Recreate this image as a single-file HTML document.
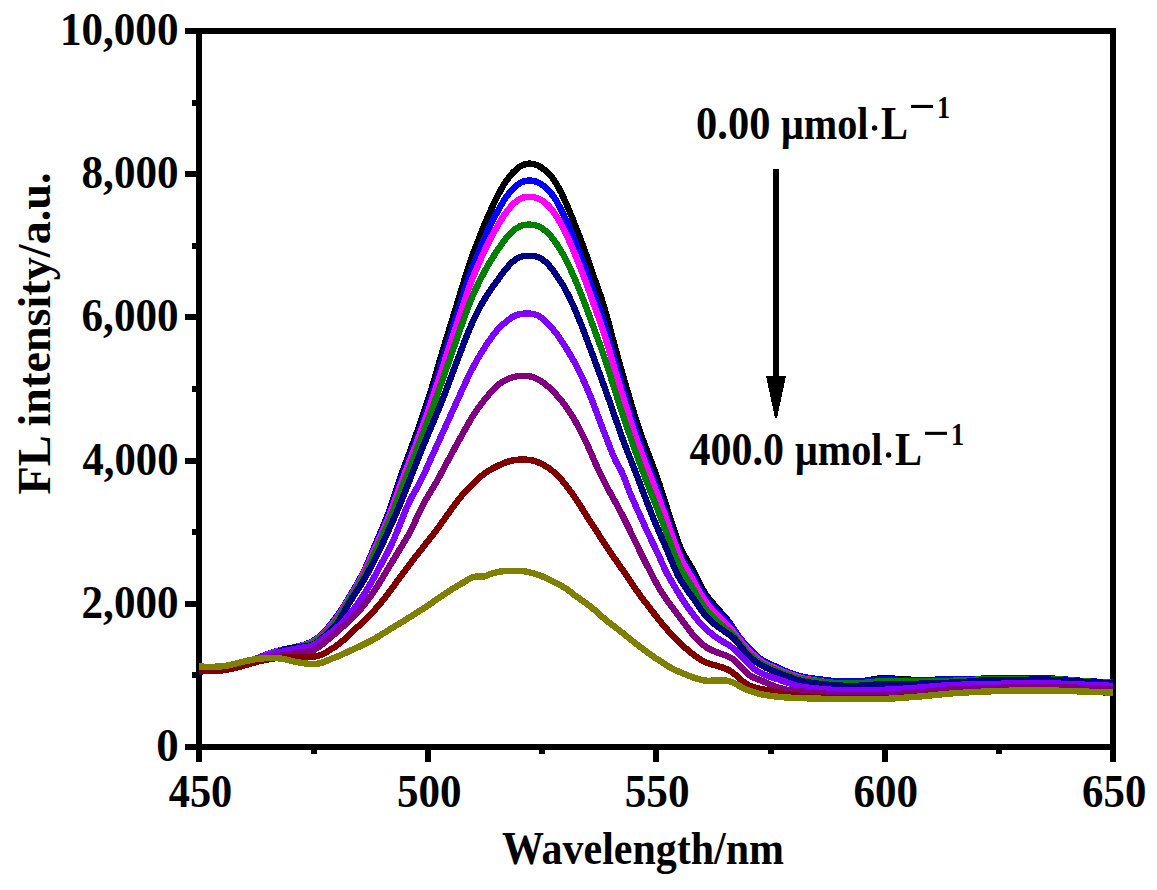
<!DOCTYPE html>
<html><head><meta charset="utf-8"><title>FL spectra</title>
<style>
html,body{margin:0;padding:0;background:#fff;}
body{width:1157px;height:890px;overflow:hidden;}
svg{display:block;}
text{font-family:"Liberation Serif",serif;font-weight:bold;fill:#000;}
</style></head><body>
<svg width="1157" height="890" viewBox="0 0 1157 890">
<rect x="0" y="0" width="1157" height="890" fill="#fff"/>
<defs><clipPath id="clipbox"><rect x="199" y="31" width="915" height="716"/></clipPath></defs>
<g fill="#000" shape-rendering="crispEdges">
<rect x="196" y="28" width="6" height="722"/>
<rect x="1110" y="28" width="6" height="722"/>
<rect x="196" y="28" width="920" height="6"/>
<rect x="196" y="744" width="920" height="6"/>
<rect x="185" y="744" width="12" height="6"/>
<rect x="192" y="672" width="5" height="6"/>
<rect x="185" y="601" width="12" height="6"/>
<rect x="192" y="529" width="5" height="6"/>
<rect x="185" y="458" width="12" height="6"/>
<rect x="192" y="386" width="5" height="6"/>
<rect x="185" y="314" width="12" height="6"/>
<rect x="192" y="243" width="5" height="6"/>
<rect x="185" y="171" width="12" height="6"/>
<rect x="192" y="100" width="5" height="6"/>
<rect x="185" y="28" width="12" height="6"/>
<rect x="196" y="749" width="6" height="13"/>
<rect x="311" y="749" width="6" height="5"/>
<rect x="425" y="749" width="6" height="13"/>
<rect x="539" y="749" width="6" height="5"/>
<rect x="653" y="749" width="6" height="13"/>
<rect x="768" y="749" width="6" height="5"/>
<rect x="882" y="749" width="6" height="13"/>
<rect x="996" y="749" width="6" height="5"/>
<rect x="1110" y="749" width="6" height="13"/>
</g>
<g fill="none" stroke-width="6.4" stroke-linejoin="round" stroke-linecap="butt" shape-rendering="crispEdges" clip-path="url(#clipbox)">
<path stroke="#000000" d="M199.0 670.5 L201.0 670.5 L203.0 670.5 L205.0 670.4 L207.0 670.4 L209.0 670.3 L211.0 670.3 L213.0 670.2 L215.0 670.1 L217.0 670.0 L219.0 669.9 L221.0 669.7 L223.0 669.5 L225.0 669.2 L227.0 668.8 L229.0 668.3 L231.0 667.8 L233.0 667.2 L235.0 666.6 L237.0 665.9 L239.0 665.1 L241.0 664.3 L243.0 663.5 L245.0 662.7 L247.0 662.0 L249.0 661.3 L251.0 660.6 L253.0 659.9 L255.0 659.1 L257.0 658.3 L259.0 657.5 L261.0 656.7 L263.0 655.9 L265.0 655.1 L267.0 654.3 L269.0 653.6 L271.0 652.9 L273.0 652.2 L275.0 651.6 L277.0 651.1 L279.0 650.5 L281.0 650.1 L283.0 649.6 L285.0 649.2 L287.0 648.7 L289.0 648.3 L291.0 647.9 L293.0 647.5 L295.0 647.1 L297.0 646.6 L299.0 646.2 L301.0 645.7 L303.0 645.1 L305.0 644.5 L307.0 643.8 L309.0 642.9 L311.0 642.0 L313.0 640.9 L315.0 639.6 L317.0 638.3 L319.0 636.7 L321.0 635.0 L323.0 633.1 L325.0 631.0 L327.0 628.8 L329.0 626.5 L331.0 624.1 L333.0 621.5 L335.0 618.9 L337.0 616.1 L339.0 613.2 L341.0 610.3 L343.0 607.2 L345.0 604.0 L347.0 600.8 L349.0 597.5 L351.0 594.2 L353.0 590.9 L355.0 587.5 L357.0 584.0 L359.0 580.5 L361.0 576.7 L363.0 572.8 L365.0 568.8 L367.0 564.4 L369.0 559.8 L371.0 555.1 L373.0 550.2 L375.0 545.4 L377.0 540.7 L379.0 536.1 L381.0 531.4 L383.0 526.7 L385.0 521.8 L387.0 516.8 L389.0 511.5 L391.0 505.9 L393.0 500.1 L395.0 494.0 L397.0 487.9 L399.0 481.8 L401.0 475.8 L403.0 470.2 L405.0 464.7 L407.0 459.4 L409.0 454.1 L411.0 448.7 L413.0 443.3 L415.0 437.7 L417.0 432.1 L419.0 426.4 L421.0 420.6 L423.0 414.8 L425.0 408.9 L427.0 402.9 L429.0 396.7 L431.0 390.4 L433.0 383.8 L435.0 377.0 L437.0 370.2 L439.0 363.3 L441.0 356.4 L443.0 349.7 L445.0 343.1 L447.0 336.6 L449.0 330.2 L451.0 323.7 L453.0 317.3 L455.0 310.7 L457.0 304.2 L459.0 297.5 L461.0 290.9 L463.0 284.3 L465.0 277.8 L467.0 271.4 L469.0 265.2 L471.0 259.3 L473.0 253.8 L475.0 248.5 L477.0 243.5 L479.0 238.5 L481.0 233.4 L483.0 228.3 L485.0 223.4 L487.0 218.6 L489.0 214.0 L491.0 209.6 L493.0 205.4 L495.0 201.3 L497.0 197.2 L499.0 193.3 L501.0 189.6 L503.0 186.1 L505.0 182.9 L507.0 179.9 L509.0 177.2 L511.0 174.7 L513.0 172.5 L515.0 170.6 L517.0 168.8 L519.0 167.3 L521.0 166.0 L523.0 165.0 L525.0 164.3 L527.0 163.8 L529.0 163.6 L531.0 163.7 L533.0 163.9 L535.0 164.4 L537.0 165.1 L539.0 166.1 L541.0 167.3 L543.0 168.7 L545.0 170.2 L547.0 171.8 L549.0 173.8 L551.0 176.0 L553.0 178.6 L555.0 181.6 L557.0 184.8 L559.0 188.4 L561.0 192.3 L563.0 196.4 L565.0 200.8 L567.0 205.3 L569.0 210.0 L571.0 214.9 L573.0 219.8 L575.0 224.9 L577.0 230.0 L579.0 235.2 L581.0 240.4 L583.0 245.8 L585.0 251.3 L587.0 256.9 L589.0 262.7 L591.0 268.6 L593.0 274.4 L595.0 280.1 L597.0 285.7 L599.0 291.2 L601.0 297.0 L603.0 303.2 L605.0 309.9 L607.0 317.0 L609.0 324.4 L611.0 332.0 L613.0 339.6 L615.0 347.0 L617.0 354.3 L619.0 361.4 L621.0 368.5 L623.0 375.5 L625.0 382.5 L627.0 389.4 L629.0 396.3 L631.0 403.1 L633.0 409.8 L635.0 416.3 L637.0 422.6 L639.0 428.6 L641.0 434.4 L643.0 440.0 L645.0 445.4 L647.0 450.7 L649.0 455.9 L651.0 461.2 L653.0 466.4 L655.0 471.8 L657.0 477.3 L659.0 483.0 L661.0 489.1 L663.0 495.3 L665.0 501.8 L667.0 508.2 L669.0 514.6 L671.0 520.9 L673.0 527.0 L675.0 532.9 L677.0 538.7 L679.0 544.1 L681.0 549.0 L683.0 553.3 L685.0 556.9 L687.0 560.1 L689.0 563.3 L691.0 566.7 L693.0 570.5 L695.0 574.5 L697.0 578.6 L699.0 582.6 L701.0 586.4 L703.0 589.9 L705.0 593.1 L707.0 595.9 L709.0 598.6 L711.0 601.1 L713.0 603.5 L715.0 605.9 L717.0 608.2 L719.0 610.4 L721.0 612.6 L723.0 614.7 L725.0 617.0 L727.0 619.4 L729.0 622.0 L731.0 624.7 L733.0 627.7 L735.0 630.8 L737.0 633.9 L739.0 637.1 L741.0 640.0 L743.0 642.7 L745.0 645.1 L747.0 647.3 L749.0 649.4 L751.0 651.4 L753.0 653.4 L755.0 655.4 L757.0 657.2 L759.0 658.8 L761.0 660.2 L763.0 661.5 L765.0 662.6 L767.0 663.6 L769.0 664.5 L771.0 665.4 L773.0 666.4 L775.0 667.3 L777.0 668.2 L779.0 669.1 L781.0 670.0 L783.0 670.8 L785.0 671.6 L787.0 672.4 L789.0 673.2 L791.0 674.0 L793.0 674.8 L795.0 675.5 L797.0 676.1 L799.0 676.7 L801.0 677.2 L803.0 677.6 L805.0 678.0 L807.0 678.4 L809.0 678.7 L811.0 679.0 L813.0 679.3 L815.0 679.6 L817.0 679.8 L819.0 680.1 L821.0 680.3 L823.0 680.5 L825.0 680.8 L827.0 681.0 L829.0 681.2 L831.0 681.4 L833.0 681.6 L835.0 681.8 L837.0 682.0 L839.0 682.1 L841.0 682.2 L843.0 682.2 L845.0 682.2 L847.0 682.2 L849.0 682.1 L851.0 682.0 L853.0 681.9 L855.0 681.8 L857.0 681.6 L859.0 681.4 L861.0 681.2 L863.0 681.0 L865.0 680.7 L867.0 680.4 L869.0 680.1 L871.0 679.7 L873.0 679.3 L875.0 679.0 L877.0 678.7 L879.0 678.5 L881.0 678.4 L883.0 678.4 L885.0 678.4 L887.0 678.5 L889.0 678.5 L891.0 678.6 L893.0 678.6 L895.0 678.7 L897.0 678.8 L899.0 678.9 L901.0 679.0 L903.0 679.1 L905.0 679.3 L907.0 679.4 L909.0 679.6 L911.0 679.7 L913.0 679.8 L915.0 679.9 L917.0 680.0 L919.0 680.0 L921.0 680.0 L923.0 680.0 L925.0 680.0 L927.0 679.9 L929.0 679.9 L931.0 679.9 L933.0 679.9 L935.0 679.9 L937.0 679.8 L939.0 679.8 L941.0 679.8 L943.0 679.8 L945.0 679.7 L947.0 679.7 L949.0 679.7 L951.0 679.7 L953.0 679.6 L955.0 679.6 L957.0 679.6 L959.0 679.5 L961.0 679.5 L963.0 679.4 L965.0 679.4 L967.0 679.3 L969.0 679.2 L971.0 679.2 L973.0 679.1 L975.0 679.0 L977.0 678.9 L979.0 678.9 L981.0 678.8 L983.0 678.7 L985.0 678.7 L987.0 678.6 L989.0 678.6 L991.0 678.5 L993.0 678.5 L995.0 678.5 L997.0 678.4 L999.0 678.4 L1001.0 678.4 L1003.0 678.4 L1005.0 678.4 L1007.0 678.4 L1009.0 678.4 L1011.0 678.4 L1013.0 678.4 L1015.0 678.4 L1017.0 678.4 L1019.0 678.4 L1021.0 678.4 L1023.0 678.4 L1025.0 678.4 L1027.0 678.4 L1029.0 678.4 L1031.0 678.4 L1033.0 678.4 L1035.0 678.4 L1037.0 678.4 L1039.0 678.4 L1041.0 678.4 L1043.0 678.4 L1045.0 678.4 L1047.0 678.5 L1049.0 678.5 L1051.0 678.6 L1053.0 678.7 L1055.0 678.8 L1057.0 678.9 L1059.0 679.1 L1061.0 679.2 L1063.0 679.4 L1065.0 679.5 L1067.0 679.7 L1069.0 679.9 L1071.0 680.0 L1073.0 680.2 L1075.0 680.4 L1077.0 680.5 L1079.0 680.7 L1081.0 680.8 L1083.0 681.0 L1085.0 681.1 L1087.0 681.2 L1089.0 681.4 L1091.0 681.5 L1093.0 681.6 L1095.0 681.7 L1097.0 681.8 L1099.0 681.9 L1101.0 682.0 L1103.0 682.1 L1105.0 682.2 L1107.0 682.3 L1109.0 682.4 L1111.0 682.5"/>
<path stroke="#0000ff" d="M199.0 670.5 L201.0 670.5 L203.0 670.5 L205.0 670.4 L207.0 670.4 L209.0 670.3 L211.0 670.3 L213.0 670.2 L215.0 670.1 L217.0 670.0 L219.0 669.9 L221.0 669.7 L223.0 669.5 L225.0 669.2 L227.0 668.8 L229.0 668.3 L231.0 667.8 L233.0 667.2 L235.0 666.6 L237.0 665.9 L239.0 665.1 L241.0 664.3 L243.0 663.5 L245.0 662.7 L247.0 662.0 L249.0 661.3 L251.0 660.6 L253.0 659.9 L255.0 659.1 L257.0 658.3 L259.0 657.5 L261.0 656.7 L263.0 655.9 L265.0 655.1 L267.0 654.3 L269.0 653.6 L271.0 652.9 L273.0 652.2 L275.0 651.6 L277.0 651.1 L279.0 650.5 L281.0 650.1 L283.0 649.6 L285.0 649.2 L287.0 648.7 L289.0 648.3 L291.0 647.9 L293.0 647.5 L295.0 647.1 L297.0 646.6 L299.0 646.2 L301.0 645.7 L303.0 645.1 L305.0 644.5 L307.0 643.8 L309.0 642.9 L311.0 642.0 L313.0 640.9 L315.0 639.6 L317.0 638.3 L319.0 636.7 L321.0 635.0 L323.0 633.1 L325.0 631.0 L327.0 628.8 L329.0 626.5 L331.0 624.1 L333.0 621.5 L335.0 618.9 L337.0 616.1 L339.0 613.2 L341.0 610.3 L343.0 607.2 L345.0 604.0 L347.0 600.8 L349.0 597.5 L351.0 594.2 L353.0 590.9 L355.0 587.5 L357.0 584.0 L359.0 580.5 L361.0 576.7 L363.0 572.8 L365.0 568.8 L367.0 564.4 L369.0 559.9 L371.0 555.2 L373.0 550.4 L375.0 545.7 L377.0 541.2 L379.0 536.6 L381.0 532.1 L383.0 527.5 L385.0 522.9 L387.0 518.0 L389.0 512.9 L391.0 507.6 L393.0 502.0 L395.0 496.2 L397.0 490.4 L399.0 484.6 L401.0 479.0 L403.0 473.6 L405.0 468.3 L407.0 463.2 L409.0 458.1 L411.0 453.0 L413.0 447.8 L415.0 442.5 L417.0 437.1 L419.0 431.6 L421.0 426.1 L423.0 420.5 L425.0 414.8 L427.0 409.0 L429.0 403.1 L431.0 397.0 L433.0 390.8 L435.0 384.4 L437.0 377.9 L439.0 371.4 L441.0 364.9 L443.0 358.5 L445.0 352.2 L447.0 345.9 L449.0 339.7 L451.0 333.4 L453.0 327.2 L455.0 320.9 L457.0 314.5 L459.0 308.1 L461.0 301.7 L463.0 295.4 L465.0 289.1 L467.0 283.0 L469.0 277.0 L471.0 271.3 L473.0 266.0 L475.0 261.0 L477.0 256.1 L479.0 251.3 L481.0 246.5 L483.0 241.7 L485.0 237.1 L487.0 232.5 L489.0 228.2 L491.0 224.1 L493.0 220.2 L495.0 216.3 L497.0 212.5 L499.0 208.9 L501.0 205.3 L503.0 202.0 L505.0 198.9 L507.0 196.0 L509.0 193.4 L511.0 191.0 L513.0 188.8 L515.0 186.9 L517.0 185.3 L519.0 183.8 L521.0 182.6 L523.0 181.7 L525.0 181.1 L527.0 180.7 L529.0 180.5 L531.0 180.6 L533.0 180.8 L535.0 181.3 L537.0 182.0 L539.0 183.0 L541.0 184.2 L543.0 185.5 L545.0 187.1 L547.0 188.9 L549.0 190.9 L551.0 193.2 L553.0 195.8 L555.0 198.8 L557.0 202.0 L559.0 205.6 L561.0 209.4 L563.0 213.4 L565.0 217.7 L567.0 222.1 L569.0 226.7 L571.0 231.5 L573.0 236.4 L575.0 241.5 L577.0 246.5 L579.0 251.7 L581.0 257.0 L583.0 262.4 L585.0 267.8 L587.0 273.5 L589.0 279.2 L591.0 285.1 L593.0 290.9 L595.0 296.6 L597.0 302.2 L599.0 307.8 L601.0 313.5 L603.0 319.6 L605.0 326.1 L607.0 332.9 L609.0 340.0 L611.0 347.3 L613.0 354.5 L615.0 361.6 L617.0 368.6 L619.0 375.5 L621.0 382.3 L623.0 389.0 L625.0 395.6 L627.0 402.2 L629.0 408.8 L631.0 415.2 L633.0 421.6 L635.0 427.8 L637.0 433.9 L639.0 439.8 L641.0 445.4 L643.0 450.9 L645.0 456.3 L647.0 461.6 L649.0 466.8 L651.0 472.0 L653.0 477.2 L655.0 482.5 L657.0 487.8 L659.0 493.4 L661.0 499.1 L663.0 505.0 L665.0 511.0 L667.0 517.1 L669.0 523.2 L671.0 529.2 L673.0 535.0 L675.0 540.6 L677.0 546.1 L679.0 551.2 L681.0 555.8 L683.0 559.8 L685.0 563.3 L687.0 566.4 L689.0 569.5 L691.0 572.7 L693.0 576.3 L695.0 580.1 L697.0 583.9 L699.0 587.5 L701.0 590.8 L703.0 593.9 L705.0 596.7 L707.0 599.3 L709.0 601.8 L711.0 604.1 L713.0 606.4 L715.0 608.6 L717.0 610.8 L719.0 612.8 L721.0 614.9 L723.0 616.9 L725.0 618.9 L727.0 621.0 L729.0 623.3 L731.0 625.6 L733.0 628.1 L735.0 630.8 L737.0 633.6 L739.0 636.5 L741.0 639.2 L743.0 641.7 L745.0 644.0 L747.0 646.1 L749.0 648.2 L751.0 650.2 L753.0 652.3 L755.0 654.3 L757.0 656.2 L759.0 657.9 L761.0 659.3 L763.0 660.5 L765.0 661.6 L767.0 662.6 L769.0 663.5 L771.0 664.5 L773.0 665.4 L775.0 666.3 L777.0 667.3 L779.0 668.2 L781.0 669.1 L783.0 669.9 L785.0 670.8 L787.0 671.6 L789.0 672.4 L791.0 673.1 L793.0 673.9 L795.0 674.6 L797.0 675.2 L799.0 675.8 L801.0 676.3 L803.0 676.7 L805.0 677.1 L807.0 677.5 L809.0 677.9 L811.0 678.2 L813.0 678.5 L815.0 678.8 L817.0 679.0 L819.0 679.3 L821.0 679.5 L823.0 679.8 L825.0 680.0 L827.0 680.2 L829.0 680.5 L831.0 680.7 L833.0 680.9 L835.0 681.1 L837.0 681.3 L839.0 681.4 L841.0 681.5 L843.0 681.6 L845.0 681.6 L847.0 681.6 L849.0 681.5 L851.0 681.5 L853.0 681.4 L855.0 681.4 L857.0 681.3 L859.0 681.2 L861.0 681.1 L863.0 681.0 L865.0 680.8 L867.0 680.6 L869.0 680.4 L871.0 680.2 L873.0 680.0 L875.0 679.8 L877.0 679.7 L879.0 679.6 L881.0 679.5 L883.0 679.5 L885.0 679.5 L887.0 679.5 L889.0 679.6 L891.0 679.6 L893.0 679.6 L895.0 679.6 L897.0 679.7 L899.0 679.7 L901.0 679.7 L903.0 679.7 L905.0 679.7 L907.0 679.8 L909.0 679.8 L911.0 679.8 L913.0 679.8 L915.0 679.8 L917.0 679.8 L919.0 679.8 L921.0 679.8 L923.0 679.8 L925.0 679.8 L927.0 679.7 L929.0 679.7 L931.0 679.7 L933.0 679.7 L935.0 679.7 L937.0 679.6 L939.0 679.6 L941.0 679.6 L943.0 679.6 L945.0 679.6 L947.0 679.5 L949.0 679.5 L951.0 679.5 L953.0 679.4 L955.0 679.4 L957.0 679.4 L959.0 679.4 L961.0 679.3 L963.0 679.3 L965.0 679.2 L967.0 679.1 L969.0 679.1 L971.0 679.0 L973.0 679.0 L975.0 678.9 L977.0 678.8 L979.0 678.7 L981.0 678.7 L983.0 678.6 L985.0 678.6 L987.0 678.5 L989.0 678.4 L991.0 678.4 L993.0 678.4 L995.0 678.3 L997.0 678.3 L999.0 678.3 L1001.0 678.3 L1003.0 678.3 L1005.0 678.3 L1007.0 678.3 L1009.0 678.3 L1011.0 678.3 L1013.0 678.3 L1015.0 678.3 L1017.0 678.3 L1019.0 678.3 L1021.0 678.3 L1023.0 678.3 L1025.0 678.3 L1027.0 678.3 L1029.0 678.3 L1031.0 678.3 L1033.0 678.3 L1035.0 678.3 L1037.0 678.3 L1039.0 678.3 L1041.0 678.3 L1043.0 678.3 L1045.0 678.3 L1047.0 678.4 L1049.0 678.4 L1051.0 678.5 L1053.0 678.6 L1055.0 678.7 L1057.0 678.8 L1059.0 679.0 L1061.0 679.1 L1063.0 679.3 L1065.0 679.4 L1067.0 679.6 L1069.0 679.8 L1071.0 679.9 L1073.0 680.1 L1075.0 680.3 L1077.0 680.5 L1079.0 680.6 L1081.0 680.8 L1083.0 680.9 L1085.0 681.0 L1087.0 681.2 L1089.0 681.3 L1091.0 681.4 L1093.0 681.5 L1095.0 681.6 L1097.0 681.7 L1099.0 681.9 L1101.0 682.0 L1103.0 682.1 L1105.0 682.2 L1107.0 682.3 L1109.0 682.4 L1111.0 682.5 L1112.8 682.5"/>
<path stroke="#ff00ff" d="M199.0 670.6 L201.0 670.6 L203.0 670.6 L205.0 670.6 L207.0 670.5 L209.0 670.5 L211.0 670.4 L213.0 670.3 L215.0 670.3 L217.0 670.2 L219.0 670.0 L221.0 669.9 L223.0 669.6 L225.0 669.3 L227.0 668.9 L229.0 668.5 L231.0 668.0 L233.0 667.4 L235.0 666.8 L237.0 666.1 L239.0 665.3 L241.0 664.6 L243.0 663.8 L245.0 663.0 L247.0 662.3 L249.0 661.6 L251.0 660.8 L253.0 660.1 L255.0 659.3 L257.0 658.5 L259.0 657.7 L261.0 656.9 L263.0 656.2 L265.0 655.4 L267.0 654.7 L269.0 654.0 L271.0 653.3 L273.0 652.6 L275.0 652.0 L277.0 651.3 L279.0 650.8 L281.0 650.2 L283.0 649.7 L285.0 649.2 L287.0 648.7 L289.0 648.3 L291.0 647.9 L293.0 647.6 L295.0 647.2 L297.0 646.8 L299.0 646.3 L301.0 645.9 L303.0 645.4 L305.0 644.8 L307.0 644.2 L309.0 643.4 L311.0 642.6 L313.0 641.6 L315.0 640.4 L317.0 639.0 L319.0 637.5 L321.0 635.8 L323.0 633.9 L325.0 631.9 L327.0 629.8 L329.0 627.6 L331.0 625.2 L333.0 622.8 L335.0 620.3 L337.0 617.6 L339.0 614.7 L341.0 611.6 L343.0 608.4 L345.0 605.2 L347.0 601.9 L349.0 598.6 L351.0 595.4 L353.0 592.1 L355.0 588.7 L357.0 585.3 L359.0 581.8 L361.0 578.2 L363.0 574.4 L365.0 570.5 L367.0 566.3 L369.0 561.9 L371.0 557.4 L373.0 552.8 L375.0 548.3 L377.0 543.8 L379.0 539.4 L381.0 534.9 L383.0 530.4 L385.0 525.8 L387.0 521.0 L389.0 516.1 L391.0 510.9 L393.0 505.6 L395.0 500.0 L397.0 494.4 L399.0 488.8 L401.0 483.3 L403.0 478.0 L405.0 472.8 L407.0 467.7 L409.0 462.7 L411.0 457.5 L413.0 452.3 L415.0 447.0 L417.0 441.7 L419.0 436.3 L421.0 430.9 L423.0 425.5 L425.0 419.9 L427.0 414.4 L429.0 408.7 L431.0 402.9 L433.0 396.9 L435.0 390.9 L437.0 384.7 L439.0 378.5 L441.0 372.4 L443.0 366.2 L445.0 360.2 L447.0 354.1 L449.0 348.1 L451.0 342.0 L453.0 335.9 L455.0 329.9 L457.0 323.7 L459.0 317.6 L461.0 311.4 L463.0 305.3 L465.0 299.3 L467.0 293.4 L469.0 287.7 L471.0 282.2 L473.0 277.1 L475.0 272.3 L477.0 267.6 L479.0 263.1 L481.0 258.5 L483.0 254.0 L485.0 249.7 L487.0 245.5 L489.0 241.5 L491.0 237.6 L493.0 234.0 L495.0 230.4 L497.0 226.9 L499.0 223.4 L501.0 220.1 L503.0 216.9 L505.0 213.9 L507.0 211.2 L509.0 208.7 L511.0 206.4 L513.0 204.3 L515.0 202.5 L517.0 200.9 L519.0 199.6 L521.0 198.5 L523.0 197.7 L525.0 197.1 L527.0 196.8 L529.0 196.7 L531.0 196.7 L533.0 197.0 L535.0 197.4 L537.0 198.0 L539.0 198.9 L541.0 200.0 L543.0 201.3 L545.0 202.8 L547.0 204.5 L549.0 206.5 L551.0 208.7 L553.0 211.2 L555.0 214.0 L557.0 217.1 L559.0 220.4 L561.0 224.0 L563.0 227.7 L565.0 231.7 L567.0 235.9 L569.0 240.3 L571.0 244.9 L573.0 249.5 L575.0 254.3 L577.0 259.2 L579.0 264.2 L581.0 269.3 L583.0 274.5 L585.0 279.8 L587.0 285.3 L589.0 290.9 L591.0 296.6 L593.0 302.2 L595.0 307.7 L597.0 313.2 L599.0 318.7 L601.0 324.3 L603.0 330.2 L605.0 336.5 L607.0 343.0 L609.0 349.8 L611.0 356.7 L613.0 363.7 L615.0 370.5 L617.0 377.3 L619.0 383.9 L621.0 390.5 L623.0 397.0 L625.0 403.4 L627.0 409.8 L629.0 416.0 L631.0 422.3 L633.0 428.4 L635.0 434.4 L637.0 440.4 L639.0 446.1 L641.0 451.7 L643.0 457.2 L645.0 462.5 L647.0 467.8 L649.0 472.9 L651.0 478.1 L653.0 483.2 L655.0 488.3 L657.0 493.5 L659.0 498.8 L661.0 504.3 L663.0 510.0 L665.0 515.7 L667.0 521.5 L669.0 527.4 L671.0 533.1 L673.0 538.8 L675.0 544.2 L677.0 549.5 L679.0 554.4 L681.0 558.9 L683.0 562.9 L685.0 566.5 L687.0 569.8 L689.0 573.0 L691.0 576.4 L693.0 580.1 L695.0 583.9 L697.0 587.8 L699.0 591.4 L701.0 594.9 L703.0 598.0 L705.0 601.0 L707.0 603.7 L709.0 606.2 L711.0 608.5 L713.0 610.8 L715.0 612.9 L717.0 615.0 L719.0 617.0 L721.0 619.0 L723.0 621.0 L725.0 623.0 L727.0 625.0 L729.0 627.1 L731.0 629.3 L733.0 631.6 L735.0 634.0 L737.0 636.5 L739.0 639.1 L741.0 641.7 L743.0 644.2 L745.0 646.4 L747.0 648.6 L749.0 650.6 L751.0 652.6 L753.0 654.5 L755.0 656.4 L757.0 658.2 L759.0 659.8 L761.0 661.2 L763.0 662.4 L765.0 663.4 L767.0 664.4 L769.0 665.4 L771.0 666.3 L773.0 667.2 L775.0 668.1 L777.0 669.0 L779.0 669.8 L781.0 670.7 L783.0 671.5 L785.0 672.3 L787.0 673.1 L789.0 673.8 L791.0 674.6 L793.0 675.3 L795.0 676.0 L797.0 676.7 L799.0 677.3 L801.0 677.8 L803.0 678.3 L805.0 678.7 L807.0 679.1 L809.0 679.5 L811.0 679.8 L813.0 680.2 L815.0 680.5 L817.0 680.8 L819.0 681.0 L821.0 681.3 L823.0 681.6 L825.0 681.8 L827.0 682.1 L829.0 682.3 L831.0 682.6 L833.0 682.8 L835.0 683.0 L837.0 683.2 L839.0 683.4 L841.0 683.5 L843.0 683.6 L845.0 683.6 L847.0 683.6 L849.0 683.6 L851.0 683.6 L853.0 683.6 L855.0 683.6 L857.0 683.6 L859.0 683.5 L861.0 683.4 L863.0 683.3 L865.0 683.2 L867.0 683.0 L869.0 682.9 L871.0 682.7 L873.0 682.5 L875.0 682.3 L877.0 682.2 L879.0 682.1 L881.0 682.0 L883.0 682.0 L885.0 682.0 L887.0 682.0 L889.0 682.0 L891.0 682.0 L893.0 682.0 L895.0 682.0 L897.0 682.0 L899.0 682.0 L901.0 682.0 L903.0 682.0 L905.0 682.0 L907.0 682.0 L909.0 682.0 L911.0 682.0 L913.0 682.0 L915.0 682.0 L917.0 682.0 L919.0 681.9 L921.0 681.9 L923.0 681.9 L925.0 681.8 L927.0 681.8 L929.0 681.8 L931.0 681.7 L933.0 681.7 L935.0 681.6 L937.0 681.6 L939.0 681.5 L941.0 681.5 L943.0 681.4 L945.0 681.4 L947.0 681.3 L949.0 681.3 L951.0 681.2 L953.0 681.2 L955.0 681.1 L957.0 681.0 L959.0 680.9 L961.0 680.9 L963.0 680.8 L965.0 680.6 L967.0 680.5 L969.0 680.4 L971.0 680.3 L973.0 680.2 L975.0 680.0 L977.0 679.9 L979.0 679.8 L981.0 679.7 L983.0 679.6 L985.0 679.5 L987.0 679.4 L989.0 679.4 L991.0 679.3 L993.0 679.3 L995.0 679.3 L997.0 679.2 L999.0 679.2 L1001.0 679.2 L1003.0 679.2 L1005.0 679.2 L1007.0 679.2 L1009.0 679.2 L1011.0 679.2 L1013.0 679.2 L1015.0 679.2 L1017.0 679.1 L1019.0 679.1 L1021.0 679.1 L1023.0 679.1 L1025.0 679.1 L1027.0 679.1 L1029.0 679.1 L1031.0 679.0 L1033.0 679.0 L1035.0 679.0 L1037.0 679.0 L1039.0 679.0 L1041.0 679.0 L1043.0 679.0 L1045.0 679.0 L1047.0 679.0 L1049.0 679.1 L1051.0 679.2 L1053.0 679.2 L1055.0 679.3 L1057.0 679.5 L1059.0 679.6 L1061.0 679.7 L1063.0 679.9 L1065.0 680.0 L1067.0 680.2 L1069.0 680.3 L1071.0 680.5 L1073.0 680.6 L1075.0 680.8 L1077.0 680.9 L1079.0 681.1 L1081.0 681.2 L1083.0 681.4 L1085.0 681.5 L1087.0 681.6 L1089.0 681.7 L1091.0 681.8 L1093.0 681.9 L1095.0 682.0 L1097.0 682.1 L1099.0 682.2 L1101.0 682.3 L1103.0 682.4 L1105.0 682.5 L1107.0 682.6 L1109.0 682.7 L1111.0 682.7"/>
<path stroke="#008000" d="M199.0 670.9 L201.0 670.9 L203.0 670.8 L205.0 670.8 L207.0 670.8 L209.0 670.7 L211.0 670.7 L213.0 670.6 L215.0 670.5 L217.0 670.4 L219.0 670.3 L221.0 670.1 L223.0 669.9 L225.0 669.6 L227.0 669.2 L229.0 668.7 L231.0 668.2 L233.0 667.7 L235.0 667.1 L237.0 666.4 L239.0 665.7 L241.0 665.0 L243.0 664.2 L245.0 663.4 L247.0 662.7 L249.0 661.9 L251.0 661.2 L253.0 660.4 L255.0 659.6 L257.0 658.8 L259.0 658.1 L261.0 657.3 L263.0 656.6 L265.0 655.9 L267.0 655.2 L269.0 654.6 L271.0 653.9 L273.0 653.2 L275.0 652.5 L277.0 651.8 L279.0 651.1 L281.0 650.4 L283.0 649.8 L285.0 649.2 L287.0 648.8 L289.0 648.3 L291.0 648.0 L293.0 647.6 L295.0 647.3 L297.0 646.9 L299.0 646.6 L301.0 646.2 L303.0 645.8 L305.0 645.3 L307.0 644.8 L309.0 644.2 L311.0 643.5 L313.0 642.6 L315.0 641.5 L317.0 640.2 L319.0 638.6 L321.0 636.9 L323.0 635.1 L325.0 633.2 L327.0 631.2 L329.0 629.2 L331.0 627.1 L333.0 624.8 L335.0 622.4 L337.0 619.8 L339.0 616.9 L341.0 613.7 L343.0 610.4 L345.0 606.9 L347.0 603.6 L349.0 600.3 L351.0 597.1 L353.0 593.8 L355.0 590.6 L357.0 587.3 L359.0 583.9 L361.0 580.5 L363.0 576.9 L365.0 573.1 L367.0 569.2 L369.0 565.0 L371.0 560.8 L373.0 556.5 L375.0 552.2 L377.0 547.9 L379.0 543.5 L381.0 539.2 L383.0 534.8 L385.0 530.3 L387.0 525.6 L389.0 520.9 L391.0 516.0 L393.0 511.0 L395.0 505.8 L397.0 500.6 L399.0 495.3 L401.0 490.0 L403.0 484.8 L405.0 479.7 L407.0 474.6 L409.0 469.6 L411.0 464.4 L413.0 459.3 L415.0 454.1 L417.0 448.9 L419.0 443.6 L421.0 438.4 L423.0 433.1 L425.0 427.9 L427.0 422.6 L429.0 417.3 L431.0 411.9 L433.0 406.4 L435.0 400.9 L437.0 395.3 L439.0 389.6 L441.0 384.0 L443.0 378.3 L445.0 372.6 L447.0 366.9 L449.0 361.2 L451.0 355.5 L453.0 349.8 L455.0 344.1 L457.0 338.4 L459.0 332.6 L461.0 326.9 L463.0 321.3 L465.0 315.7 L467.0 310.2 L469.0 304.9 L471.0 299.9 L473.0 295.2 L475.0 290.7 L477.0 286.5 L479.0 282.3 L481.0 278.3 L483.0 274.4 L485.0 270.6 L487.0 266.9 L489.0 263.5 L491.0 260.2 L493.0 257.1 L495.0 254.0 L497.0 251.0 L499.0 248.0 L501.0 245.1 L503.0 242.3 L505.0 239.6 L507.0 237.2 L509.0 234.9 L511.0 232.8 L513.0 230.9 L515.0 229.3 L517.0 227.9 L519.0 226.8 L521.0 225.9 L523.0 225.3 L525.0 224.9 L527.0 224.7 L529.0 224.6 L531.0 224.7 L533.0 224.9 L535.0 225.3 L537.0 225.8 L539.0 226.6 L541.0 227.6 L543.0 228.9 L545.0 230.4 L547.0 232.1 L549.0 234.1 L551.0 236.3 L553.0 238.8 L555.0 241.5 L557.0 244.5 L559.0 247.6 L561.0 250.8 L563.0 254.3 L565.0 258.0 L567.0 261.9 L569.0 266.0 L571.0 270.3 L573.0 274.8 L575.0 279.4 L577.0 284.1 L579.0 289.0 L581.0 293.9 L583.0 299.0 L585.0 304.2 L587.0 309.5 L589.0 314.9 L591.0 320.4 L593.0 325.9 L595.0 331.3 L597.0 336.7 L599.0 342.1 L601.0 347.6 L603.0 353.3 L605.0 359.2 L607.0 365.2 L609.0 371.5 L611.0 377.8 L613.0 384.2 L615.0 390.6 L617.0 396.9 L619.0 403.2 L621.0 409.3 L623.0 415.4 L625.0 421.3 L627.0 427.2 L629.0 432.9 L631.0 438.6 L633.0 444.3 L635.0 450.0 L637.0 455.6 L639.0 461.1 L641.0 466.5 L643.0 471.9 L645.0 477.2 L647.0 482.4 L649.0 487.6 L651.0 492.7 L653.0 497.8 L655.0 502.9 L657.0 508.0 L659.0 513.1 L661.0 518.3 L663.0 523.6 L665.0 528.9 L667.0 534.3 L669.0 539.7 L671.0 545.1 L673.0 550.5 L675.0 555.6 L677.0 560.5 L679.0 564.9 L681.0 569.0 L683.0 572.7 L685.0 576.1 L687.0 579.2 L689.0 582.3 L691.0 585.5 L693.0 588.8 L695.0 592.2 L697.0 595.7 L699.0 599.1 L701.0 602.3 L703.0 605.3 L705.0 608.1 L707.0 610.7 L709.0 613.1 L711.0 615.3 L713.0 617.3 L715.0 619.3 L717.0 621.1 L719.0 622.9 L721.0 624.6 L723.0 626.3 L725.0 627.9 L727.0 629.5 L729.0 631.2 L731.0 632.9 L733.0 634.9 L735.0 637.0 L737.0 639.4 L739.0 642.0 L741.0 644.6 L743.0 647.1 L745.0 649.5 L747.0 651.7 L749.0 653.7 L751.0 655.5 L753.0 657.3 L755.0 658.9 L757.0 660.4 L759.0 661.8 L761.0 663.1 L763.0 664.2 L765.0 665.3 L767.0 666.2 L769.0 667.1 L771.0 668.0 L773.0 668.9 L775.0 669.7 L777.0 670.5 L779.0 671.3 L781.0 672.1 L783.0 672.8 L785.0 673.6 L787.0 674.3 L789.0 675.0 L791.0 675.7 L793.0 676.5 L795.0 677.1 L797.0 677.8 L799.0 678.3 L801.0 678.8 L803.0 679.2 L805.0 679.6 L807.0 679.9 L809.0 680.2 L811.0 680.5 L813.0 680.7 L815.0 681.0 L817.0 681.2 L819.0 681.4 L821.0 681.6 L823.0 681.8 L825.0 682.0 L827.0 682.2 L829.0 682.4 L831.0 682.5 L833.0 682.7 L835.0 682.9 L837.0 683.0 L839.0 683.1 L841.0 683.2 L843.0 683.2 L845.0 683.2 L847.0 683.2 L849.0 683.2 L851.0 683.2 L853.0 683.1 L855.0 683.1 L857.0 683.1 L859.0 683.0 L861.0 682.9 L863.0 682.8 L865.0 682.7 L867.0 682.5 L869.0 682.3 L871.0 682.1 L873.0 681.9 L875.0 681.7 L877.0 681.6 L879.0 681.5 L881.0 681.4 L883.0 681.4 L885.0 681.4 L887.0 681.4 L889.0 681.4 L891.0 681.4 L893.0 681.4 L895.0 681.4 L897.0 681.4 L899.0 681.4 L901.0 681.4 L903.0 681.4 L905.0 681.4 L907.0 681.4 L909.0 681.4 L911.0 681.4 L913.0 681.4 L915.0 681.4 L917.0 681.4 L919.0 681.3 L921.0 681.3 L923.0 681.3 L925.0 681.3 L927.0 681.2 L929.0 681.2 L931.0 681.2 L933.0 681.1 L935.0 681.1 L937.0 681.1 L939.0 681.0 L941.0 681.0 L943.0 680.9 L945.0 680.9 L947.0 680.8 L949.0 680.8 L951.0 680.7 L953.0 680.7 L955.0 680.6 L957.0 680.6 L959.0 680.5 L961.0 680.4 L963.0 680.3 L965.0 680.3 L967.0 680.2 L969.0 680.1 L971.0 679.9 L973.0 679.8 L975.0 679.7 L977.0 679.6 L979.0 679.5 L981.0 679.4 L983.0 679.3 L985.0 679.3 L987.0 679.2 L989.0 679.1 L991.0 679.1 L993.0 679.0 L995.0 679.0 L997.0 679.0 L999.0 679.0 L1001.0 679.0 L1003.0 679.0 L1005.0 679.0 L1007.0 678.9 L1009.0 678.9 L1011.0 678.9 L1013.0 678.9 L1015.0 678.9 L1017.0 678.9 L1019.0 678.9 L1021.0 678.9 L1023.0 678.9 L1025.0 678.9 L1027.0 678.9 L1029.0 678.8 L1031.0 678.8 L1033.0 678.8 L1035.0 678.8 L1037.0 678.8 L1039.0 678.8 L1041.0 678.8 L1043.0 678.8 L1045.0 678.8 L1047.0 678.8 L1049.0 678.9 L1051.0 679.0 L1053.0 679.1 L1055.0 679.2 L1057.0 679.3 L1059.0 679.4 L1061.0 679.6 L1063.0 679.7 L1065.0 679.9 L1067.0 680.0 L1069.0 680.2 L1071.0 680.3 L1073.0 680.5 L1075.0 680.7 L1077.0 680.8 L1079.0 681.0 L1081.0 681.1 L1083.0 681.2 L1085.0 681.4 L1087.0 681.5 L1089.0 681.6 L1091.0 681.7 L1093.0 681.8 L1095.0 681.9 L1097.0 682.0 L1099.0 682.1 L1101.0 682.2 L1103.0 682.3 L1105.0 682.4 L1107.0 682.5 L1109.0 682.6 L1111.0 682.7"/>
<path stroke="#000080" d="M199.0 671.3 L201.0 671.3 L203.0 671.3 L205.0 671.2 L207.0 671.2 L209.0 671.1 L211.0 671.1 L213.0 671.0 L215.0 670.9 L217.0 670.8 L219.0 670.7 L221.0 670.5 L223.0 670.3 L225.0 670.0 L227.0 669.6 L229.0 669.2 L231.0 668.7 L233.0 668.2 L235.0 667.6 L237.0 667.0 L239.0 666.4 L241.0 665.7 L243.0 665.0 L245.0 664.2 L247.0 663.4 L249.0 662.6 L251.0 661.8 L253.0 661.0 L255.0 660.2 L257.0 659.4 L259.0 658.7 L261.0 658.0 L263.0 657.4 L265.0 656.8 L267.0 656.2 L269.0 655.6 L271.0 655.0 L273.0 654.3 L275.0 653.5 L277.0 652.6 L279.0 651.7 L281.0 650.8 L283.0 650.0 L285.0 649.3 L287.0 648.8 L289.0 648.4 L291.0 648.0 L293.0 647.7 L295.0 647.5 L297.0 647.2 L299.0 647.0 L301.0 646.7 L303.0 646.5 L305.0 646.3 L307.0 646.0 L309.0 645.7 L311.0 645.2 L313.0 644.5 L315.0 643.5 L317.0 642.2 L319.0 640.7 L321.0 639.1 L323.0 637.4 L325.0 635.7 L327.0 633.9 L329.0 632.1 L331.0 630.3 L333.0 628.4 L335.0 626.3 L337.0 623.9 L339.0 621.0 L341.0 617.5 L343.0 613.8 L345.0 610.1 L347.0 606.6 L349.0 603.3 L351.0 600.1 L353.0 597.0 L355.0 593.9 L357.0 590.8 L359.0 587.7 L361.0 584.5 L363.0 581.2 L365.0 577.8 L367.0 574.3 L369.0 570.6 L371.0 566.9 L373.0 563.0 L375.0 559.1 L377.0 555.1 L379.0 551.0 L381.0 546.8 L383.0 542.5 L385.0 538.2 L387.0 533.9 L389.0 529.5 L391.0 525.1 L393.0 520.7 L395.0 516.1 L397.0 511.5 L399.0 506.8 L401.0 501.9 L403.0 496.9 L405.0 491.9 L407.0 486.8 L409.0 481.8 L411.0 476.7 L413.0 471.6 L415.0 466.5 L417.0 461.4 L419.0 456.3 L421.0 451.3 L423.0 446.4 L425.0 441.6 L427.0 436.8 L429.0 432.1 L431.0 427.4 L433.0 422.6 L435.0 417.9 L437.0 413.1 L439.0 408.3 L441.0 403.4 L443.0 398.3 L445.0 393.2 L447.0 387.9 L449.0 382.6 L451.0 377.3 L453.0 371.9 L455.0 366.6 L457.0 361.3 L459.0 356.1 L461.0 350.8 L463.0 345.5 L465.0 340.3 L467.0 335.2 L469.0 330.3 L471.0 325.6 L473.0 321.1 L475.0 316.9 L477.0 312.9 L479.0 309.1 L481.0 305.4 L483.0 301.8 L485.0 298.5 L487.0 295.2 L489.0 292.1 L491.0 289.2 L493.0 286.5 L495.0 283.7 L497.0 281.0 L499.0 278.2 L501.0 275.4 L503.0 272.7 L505.0 270.1 L507.0 267.7 L509.0 265.4 L511.0 263.3 L513.0 261.5 L515.0 259.8 L517.0 258.5 L519.0 257.4 L521.0 256.7 L523.0 256.2 L525.0 255.8 L527.0 255.7 L529.0 255.7 L531.0 255.8 L533.0 256.0 L535.0 256.3 L537.0 256.8 L539.0 257.5 L541.0 258.5 L543.0 259.8 L545.0 261.5 L547.0 263.3 L549.0 265.4 L551.0 267.7 L553.0 270.3 L555.0 273.0 L557.0 276.0 L559.0 279.0 L561.0 282.1 L563.0 285.4 L565.0 288.9 L567.0 292.6 L569.0 296.5 L571.0 300.7 L573.0 305.1 L575.0 309.7 L577.0 314.4 L579.0 319.2 L581.0 324.1 L583.0 329.2 L585.0 334.4 L587.0 339.7 L589.0 345.1 L591.0 350.5 L593.0 355.9 L595.0 361.3 L597.0 366.8 L599.0 372.2 L601.0 377.6 L603.0 383.1 L605.0 388.6 L607.0 394.2 L609.0 399.8 L611.0 405.5 L613.0 411.3 L615.0 417.1 L617.0 422.9 L619.0 428.6 L621.0 434.3 L623.0 439.8 L625.0 445.2 L627.0 450.4 L629.0 455.5 L631.0 460.6 L633.0 465.7 L635.0 470.8 L637.0 476.0 L639.0 481.2 L641.0 486.5 L643.0 491.7 L645.0 497.0 L647.0 502.2 L649.0 507.3 L651.0 512.4 L653.0 517.4 L655.0 522.3 L657.0 527.0 L659.0 531.7 L661.0 536.3 L663.0 540.9 L665.0 545.5 L667.0 550.1 L669.0 554.8 L671.0 559.7 L673.0 564.5 L675.0 569.1 L677.0 573.4 L679.0 577.3 L681.0 580.7 L683.0 583.9 L685.0 586.9 L687.0 589.7 L689.0 592.5 L691.0 595.2 L693.0 598.0 L695.0 600.9 L697.0 603.8 L699.0 606.7 L701.0 609.6 L703.0 612.4 L705.0 614.9 L707.0 617.2 L709.0 619.3 L711.0 621.1 L713.0 622.9 L715.0 624.5 L717.0 626.0 L719.0 627.5 L721.0 629.0 L723.0 630.3 L725.0 631.7 L727.0 633.0 L729.0 634.4 L731.0 635.9 L733.0 637.5 L735.0 639.5 L737.0 641.7 L739.0 644.2 L741.0 646.8 L743.0 649.4 L745.0 651.8 L747.0 654.1 L749.0 656.1 L751.0 657.9 L753.0 659.5 L755.0 661.1 L757.0 662.5 L759.0 663.8 L761.0 665.0 L763.0 666.1 L765.0 667.2 L767.0 668.2 L769.0 669.1 L771.0 670.0 L773.0 670.9 L775.0 671.7 L777.0 672.5 L779.0 673.3 L781.0 674.0 L783.0 674.8 L785.0 675.5 L787.0 676.2 L789.0 676.9 L791.0 677.7 L793.0 678.4 L795.0 679.1 L797.0 679.8 L799.0 680.4 L801.0 680.9 L803.0 681.3 L805.0 681.7 L807.0 682.1 L809.0 682.4 L811.0 682.7 L813.0 683.0 L815.0 683.2 L817.0 683.5 L819.0 683.7 L821.0 683.9 L823.0 684.1 L825.0 684.3 L827.0 684.5 L829.0 684.7 L831.0 684.9 L833.0 685.1 L835.0 685.3 L837.0 685.4 L839.0 685.5 L841.0 685.6 L843.0 685.7 L845.0 685.7 L847.0 685.7 L849.0 685.7 L851.0 685.7 L853.0 685.7 L855.0 685.7 L857.0 685.7 L859.0 685.7 L861.0 685.6 L863.0 685.6 L865.0 685.4 L867.0 685.3 L869.0 685.1 L871.0 684.9 L873.0 684.7 L875.0 684.5 L877.0 684.4 L879.0 684.3 L881.0 684.2 L883.0 684.2 L885.0 684.1 L887.0 684.1 L889.0 684.1 L891.0 684.0 L893.0 684.0 L895.0 684.0 L897.0 684.0 L899.0 684.0 L901.0 683.9 L903.0 683.9 L905.0 683.9 L907.0 683.9 L909.0 683.9 L911.0 683.8 L913.0 683.8 L915.0 683.8 L917.0 683.7 L919.0 683.7 L921.0 683.6 L923.0 683.6 L925.0 683.5 L927.0 683.5 L929.0 683.4 L931.0 683.4 L933.0 683.3 L935.0 683.2 L937.0 683.2 L939.0 683.1 L941.0 683.0 L943.0 683.0 L945.0 682.9 L947.0 682.8 L949.0 682.7 L951.0 682.6 L953.0 682.5 L955.0 682.5 L957.0 682.4 L959.0 682.2 L961.0 682.1 L963.0 682.0 L965.0 681.8 L967.0 681.7 L969.0 681.5 L971.0 681.3 L973.0 681.2 L975.0 681.0 L977.0 680.8 L979.0 680.7 L981.0 680.5 L983.0 680.4 L985.0 680.3 L987.0 680.2 L989.0 680.1 L991.0 680.1 L993.0 680.1 L995.0 680.0 L997.0 680.0 L999.0 680.0 L1001.0 680.0 L1003.0 680.0 L1005.0 679.9 L1007.0 679.9 L1009.0 679.9 L1011.0 679.9 L1013.0 679.9 L1015.0 679.9 L1017.0 679.8 L1019.0 679.8 L1021.0 679.8 L1023.0 679.8 L1025.0 679.7 L1027.0 679.7 L1029.0 679.7 L1031.0 679.6 L1033.0 679.6 L1035.0 679.6 L1037.0 679.5 L1039.0 679.5 L1041.0 679.5 L1043.0 679.5 L1045.0 679.5 L1047.0 679.6 L1049.0 679.6 L1051.0 679.7 L1053.0 679.8 L1055.0 679.9 L1057.0 680.0 L1059.0 680.1 L1061.0 680.2 L1063.0 680.3 L1065.0 680.5 L1067.0 680.6 L1069.0 680.8 L1071.0 680.9 L1073.0 681.1 L1075.0 681.2 L1077.0 681.3 L1079.0 681.5 L1081.0 681.6 L1083.0 681.7 L1085.0 681.8 L1087.0 681.9 L1089.0 682.0 L1091.0 682.1 L1093.0 682.2 L1095.0 682.3 L1097.0 682.4 L1099.0 682.5 L1101.0 682.6 L1103.0 682.7 L1105.0 682.8 L1107.0 682.9 L1109.0 682.9 L1111.0 683.0 L1113.0 683.1"/>
<path stroke="#8000ff" d="M199.0 671.0 L201.0 671.0 L203.0 671.0 L205.0 670.9 L207.0 670.9 L209.0 670.8 L211.0 670.7 L213.0 670.6 L215.0 670.5 L217.0 670.4 L219.0 670.3 L221.0 670.1 L223.0 669.9 L225.0 669.5 L227.0 669.1 L229.0 668.6 L231.0 668.1 L233.0 667.5 L235.0 667.0 L237.0 666.4 L239.0 665.8 L241.0 665.1 L243.0 664.4 L245.0 663.7 L247.0 662.9 L249.0 662.0 L251.0 661.0 L253.0 660.1 L255.0 659.1 L257.0 658.2 L259.0 657.4 L261.0 656.8 L263.0 656.2 L265.0 655.7 L267.0 655.3 L269.0 654.9 L271.0 654.5 L273.0 654.0 L275.0 653.5 L277.0 653.1 L279.0 652.6 L281.0 652.1 L283.0 651.6 L285.0 651.1 L287.0 650.6 L289.0 650.2 L291.0 649.8 L293.0 649.4 L295.0 649.0 L297.0 648.6 L299.0 648.2 L301.0 647.9 L303.0 647.6 L305.0 647.3 L307.0 646.9 L309.0 646.6 L311.0 646.0 L313.0 645.3 L315.0 644.3 L317.0 643.0 L319.0 641.6 L321.0 640.1 L323.0 638.5 L325.0 637.0 L327.0 635.5 L329.0 634.0 L331.0 632.5 L333.0 630.9 L335.0 629.2 L337.0 627.5 L339.0 625.6 L341.0 623.7 L343.0 621.7 L345.0 619.6 L347.0 617.4 L349.0 615.0 L351.0 612.5 L353.0 610.0 L355.0 607.3 L357.0 604.6 L359.0 601.8 L361.0 598.9 L363.0 595.8 L365.0 592.7 L367.0 589.5 L369.0 586.2 L371.0 582.8 L373.0 579.3 L375.0 575.7 L377.0 572.0 L379.0 568.3 L381.0 564.5 L383.0 560.8 L385.0 557.1 L387.0 553.5 L389.0 549.7 L391.0 545.6 L393.0 541.2 L395.0 536.6 L397.0 531.7 L399.0 526.7 L401.0 521.7 L403.0 516.7 L405.0 511.8 L407.0 507.1 L409.0 502.6 L411.0 498.5 L413.0 494.8 L415.0 491.2 L417.0 487.8 L419.0 484.1 L421.0 480.3 L423.0 476.1 L425.0 471.8 L427.0 467.4 L429.0 462.9 L431.0 458.4 L433.0 454.0 L435.0 449.6 L437.0 445.2 L439.0 440.8 L441.0 436.5 L443.0 432.1 L445.0 427.7 L447.0 423.2 L449.0 418.8 L451.0 414.4 L453.0 410.0 L455.0 405.6 L457.0 401.2 L459.0 396.8 L461.0 392.4 L463.0 387.9 L465.0 383.6 L467.0 379.4 L469.0 375.3 L471.0 371.3 L473.0 367.4 L475.0 363.7 L477.0 360.1 L479.0 356.7 L481.0 353.4 L483.0 350.2 L485.0 347.0 L487.0 344.0 L489.0 341.0 L491.0 338.1 L493.0 335.4 L495.0 332.8 L497.0 330.5 L499.0 328.3 L501.0 326.2 L503.0 324.4 L505.0 322.6 L507.0 320.9 L509.0 319.4 L511.0 317.9 L513.0 316.7 L515.0 315.7 L517.0 314.9 L519.0 314.4 L521.0 314.0 L523.0 313.7 L525.0 313.5 L527.0 313.4 L529.0 313.5 L531.0 313.7 L533.0 314.0 L535.0 314.4 L537.0 315.1 L539.0 316.0 L541.0 317.4 L543.0 319.0 L545.0 320.9 L547.0 323.0 L549.0 325.0 L551.0 327.2 L553.0 329.4 L555.0 331.7 L557.0 334.3 L559.0 337.0 L561.0 340.0 L563.0 343.1 L565.0 346.3 L567.0 349.5 L569.0 352.8 L571.0 356.1 L573.0 359.6 L575.0 363.1 L577.0 366.9 L579.0 370.9 L581.0 375.0 L583.0 379.3 L585.0 383.7 L587.0 388.2 L589.0 392.8 L591.0 397.6 L593.0 402.7 L595.0 408.1 L597.0 413.5 L599.0 418.9 L601.0 424.2 L603.0 429.4 L605.0 434.5 L607.0 439.6 L609.0 444.8 L611.0 449.9 L613.0 454.9 L615.0 459.4 L617.0 463.3 L619.0 466.8 L621.0 470.5 L623.0 474.8 L625.0 479.8 L627.0 485.2 L629.0 490.5 L631.0 495.3 L633.0 499.9 L635.0 504.4 L637.0 508.8 L639.0 513.2 L641.0 517.7 L643.0 522.2 L645.0 526.6 L647.0 530.9 L649.0 535.2 L651.0 539.4 L653.0 543.5 L655.0 547.6 L657.0 551.9 L659.0 556.2 L661.0 560.7 L663.0 565.2 L665.0 569.5 L667.0 573.5 L669.0 577.1 L671.0 580.5 L673.0 583.9 L675.0 587.3 L677.0 590.6 L679.0 593.9 L681.0 597.1 L683.0 600.2 L685.0 603.2 L687.0 606.2 L689.0 609.1 L691.0 611.8 L693.0 614.4 L695.0 616.9 L697.0 619.4 L699.0 621.7 L701.0 623.9 L703.0 626.0 L705.0 628.0 L707.0 629.9 L709.0 631.7 L711.0 633.3 L713.0 634.9 L715.0 636.5 L717.0 637.9 L719.0 639.3 L721.0 640.6 L723.0 641.7 L725.0 642.9 L727.0 644.0 L729.0 645.3 L731.0 646.6 L733.0 648.2 L735.0 650.0 L737.0 651.9 L739.0 653.9 L741.0 655.9 L743.0 658.0 L745.0 660.1 L747.0 662.2 L749.0 664.2 L751.0 666.1 L753.0 667.9 L755.0 669.5 L757.0 670.9 L759.0 672.1 L761.0 673.1 L763.0 674.0 L765.0 674.8 L767.0 675.6 L769.0 676.3 L771.0 677.0 L773.0 677.7 L775.0 678.3 L777.0 679.0 L779.0 679.6 L781.0 680.3 L783.0 681.0 L785.0 681.7 L787.0 682.4 L789.0 683.1 L791.0 683.8 L793.0 684.5 L795.0 685.2 L797.0 685.7 L799.0 686.2 L801.0 686.6 L803.0 687.0 L805.0 687.3 L807.0 687.5 L809.0 687.7 L811.0 688.0 L813.0 688.2 L815.0 688.3 L817.0 688.5 L819.0 688.7 L821.0 688.8 L823.0 689.0 L825.0 689.1 L827.0 689.3 L829.0 689.5 L831.0 689.7 L833.0 689.8 L835.0 690.0 L837.0 690.1 L839.0 690.2 L841.0 690.3 L843.0 690.4 L845.0 690.4 L847.0 690.4 L849.0 690.4 L851.0 690.3 L853.0 690.3 L855.0 690.3 L857.0 690.2 L859.0 690.2 L861.0 690.2 L863.0 690.2 L865.0 690.1 L867.0 690.1 L869.0 690.1 L871.0 690.1 L873.0 690.0 L875.0 690.0 L877.0 690.0 L879.0 689.9 L881.0 689.9 L883.0 689.8 L885.0 689.7 L887.0 689.6 L889.0 689.6 L891.0 689.4 L893.0 689.3 L895.0 689.2 L897.0 689.1 L899.0 689.0 L901.0 688.8 L903.0 688.7 L905.0 688.6 L907.0 688.4 L909.0 688.3 L911.0 688.1 L913.0 688.0 L915.0 687.9 L917.0 687.7 L919.0 687.6 L921.0 687.4 L923.0 687.3 L925.0 687.1 L927.0 686.9 L929.0 686.7 L931.0 686.6 L933.0 686.4 L935.0 686.2 L937.0 686.1 L939.0 685.9 L941.0 685.7 L943.0 685.6 L945.0 685.4 L947.0 685.3 L949.0 685.2 L951.0 685.1 L953.0 685.0 L955.0 684.9 L957.0 684.8 L959.0 684.7 L961.0 684.7 L963.0 684.6 L965.0 684.5 L967.0 684.5 L969.0 684.4 L971.0 684.4 L973.0 684.4 L975.0 684.3 L977.0 684.3 L979.0 684.2 L981.0 684.2 L983.0 684.1 L985.0 684.1 L987.0 684.1 L989.0 684.0 L991.0 684.0 L993.0 683.9 L995.0 683.9 L997.0 683.8 L999.0 683.8 L1001.0 683.7 L1003.0 683.6 L1005.0 683.6 L1007.0 683.5 L1009.0 683.5 L1011.0 683.4 L1013.0 683.4 L1015.0 683.4 L1017.0 683.3 L1019.0 683.3 L1021.0 683.3 L1023.0 683.3 L1025.0 683.3 L1027.0 683.3 L1029.0 683.3 L1031.0 683.3 L1033.0 683.3 L1035.0 683.3 L1037.0 683.4 L1039.0 683.4 L1041.0 683.4 L1043.0 683.4 L1045.0 683.4 L1047.0 683.4 L1049.0 683.5 L1051.0 683.5 L1053.0 683.5 L1055.0 683.5 L1057.0 683.6 L1059.0 683.6 L1061.0 683.7 L1063.0 683.7 L1065.0 683.8 L1067.0 683.9 L1069.0 683.9 L1071.0 684.0 L1073.0 684.1 L1075.0 684.2 L1077.0 684.3 L1079.0 684.4 L1081.0 684.5 L1083.0 684.6 L1085.0 684.7 L1087.0 684.7 L1089.0 684.8 L1091.0 684.9 L1093.0 685.0 L1095.0 685.1 L1097.0 685.2 L1099.0 685.3 L1101.0 685.3 L1103.0 685.4 L1105.0 685.5 L1107.0 685.6 L1109.0 685.7 L1111.0 685.8 L1113.0 685.8"/>
<path stroke="#800080" d="M199.0 671.0 L201.0 671.0 L203.0 671.0 L205.0 670.9 L207.0 670.9 L209.0 670.8 L211.0 670.7 L213.0 670.6 L215.0 670.5 L217.0 670.4 L219.0 670.3 L221.0 670.1 L223.0 669.9 L225.0 669.6 L227.0 669.2 L229.0 668.7 L231.0 668.2 L233.0 667.7 L235.0 667.2 L237.0 666.6 L239.0 666.0 L241.0 665.4 L243.0 664.7 L245.0 664.1 L247.0 663.5 L249.0 662.9 L251.0 662.3 L253.0 661.7 L255.0 661.1 L257.0 660.6 L259.0 660.0 L261.0 659.5 L263.0 659.1 L265.0 658.6 L267.0 658.2 L269.0 657.8 L271.0 657.4 L273.0 657.0 L275.0 656.6 L277.0 656.2 L279.0 655.9 L281.0 655.5 L283.0 655.2 L285.0 654.8 L287.0 654.5 L289.0 654.2 L291.0 653.9 L293.0 653.6 L295.0 653.2 L297.0 653.0 L299.0 652.7 L301.0 652.4 L303.0 652.1 L305.0 651.9 L307.0 651.6 L309.0 651.3 L311.0 650.8 L313.0 650.2 L315.0 649.2 L317.0 648.1 L319.0 646.7 L321.0 645.2 L323.0 643.7 L325.0 642.1 L327.0 640.4 L329.0 638.8 L331.0 637.1 L333.0 635.3 L335.0 633.6 L337.0 631.8 L339.0 630.0 L341.0 628.3 L343.0 626.5 L345.0 624.7 L347.0 622.9 L349.0 621.1 L351.0 619.1 L353.0 617.2 L355.0 615.1 L357.0 613.0 L359.0 610.8 L361.0 608.6 L363.0 606.2 L365.0 603.7 L367.0 601.1 L369.0 598.4 L371.0 595.6 L373.0 592.7 L375.0 589.7 L377.0 586.6 L379.0 583.5 L381.0 580.2 L383.0 577.0 L385.0 573.7 L387.0 570.4 L389.0 567.1 L391.0 563.8 L393.0 560.5 L395.0 557.2 L397.0 553.9 L399.0 550.5 L401.0 547.3 L403.0 544.0 L405.0 540.8 L407.0 537.4 L409.0 533.9 L411.0 530.0 L413.0 525.9 L415.0 521.6 L417.0 517.2 L419.0 512.9 L421.0 508.7 L423.0 504.8 L425.0 501.1 L427.0 497.6 L429.0 494.3 L431.0 491.0 L433.0 487.8 L435.0 484.4 L437.0 480.9 L439.0 477.3 L441.0 473.6 L443.0 469.9 L445.0 466.1 L447.0 462.4 L449.0 458.7 L451.0 455.0 L453.0 451.3 L455.0 447.6 L457.0 443.9 L459.0 440.3 L461.0 436.7 L463.0 433.1 L465.0 429.5 L467.0 426.0 L469.0 422.5 L471.0 419.1 L473.0 415.9 L475.0 412.7 L477.0 409.7 L479.0 406.9 L481.0 404.2 L483.0 401.6 L485.0 399.1 L487.0 396.7 L489.0 394.4 L491.0 392.1 L493.0 390.0 L495.0 387.9 L497.0 386.0 L499.0 384.3 L501.0 382.9 L503.0 381.6 L505.0 380.4 L507.0 379.4 L509.0 378.5 L511.0 377.8 L513.0 377.2 L515.0 376.7 L517.0 376.3 L519.0 376.0 L521.0 375.8 L523.0 375.8 L525.0 375.8 L527.0 376.0 L529.0 376.2 L531.0 376.6 L533.0 377.1 L535.0 377.9 L537.0 378.8 L539.0 379.9 L541.0 381.2 L543.0 382.6 L545.0 384.0 L547.0 385.7 L549.0 387.4 L551.0 389.3 L553.0 391.2 L555.0 393.3 L557.0 395.5 L559.0 397.8 L561.0 400.2 L563.0 402.7 L565.0 405.3 L567.0 408.1 L569.0 411.0 L571.0 414.1 L573.0 417.3 L575.0 420.7 L577.0 424.2 L579.0 427.9 L581.0 431.7 L583.0 435.7 L585.0 439.8 L587.0 444.0 L589.0 448.5 L591.0 453.1 L593.0 457.7 L595.0 462.3 L597.0 466.7 L599.0 471.0 L601.0 475.1 L603.0 479.1 L605.0 483.0 L607.0 486.8 L609.0 490.6 L611.0 494.2 L613.0 497.8 L615.0 501.4 L617.0 505.1 L619.0 508.8 L621.0 512.6 L623.0 516.5 L625.0 520.5 L627.0 524.5 L629.0 528.6 L631.0 532.7 L633.0 536.8 L635.0 541.0 L637.0 545.2 L639.0 549.3 L641.0 553.5 L643.0 557.5 L645.0 561.5 L647.0 565.4 L649.0 569.2 L651.0 573.1 L653.0 576.9 L655.0 580.7 L657.0 584.4 L659.0 587.9 L661.0 591.3 L663.0 594.4 L665.0 597.4 L667.0 600.2 L669.0 603.0 L671.0 605.7 L673.0 608.4 L675.0 611.0 L677.0 613.6 L679.0 616.2 L681.0 618.9 L683.0 621.6 L685.0 624.4 L687.0 627.1 L689.0 629.7 L691.0 632.3 L693.0 634.7 L695.0 636.9 L697.0 639.1 L699.0 641.1 L701.0 643.0 L703.0 644.8 L705.0 646.3 L707.0 647.7 L709.0 648.8 L711.0 649.8 L713.0 650.7 L715.0 651.5 L717.0 652.3 L719.0 653.1 L721.0 653.8 L723.0 654.5 L725.0 655.2 L727.0 655.9 L729.0 656.8 L731.0 657.9 L733.0 659.2 L735.0 660.8 L737.0 662.7 L739.0 664.7 L741.0 666.8 L743.0 669.0 L745.0 671.2 L747.0 673.2 L749.0 674.9 L751.0 676.3 L753.0 677.3 L755.0 678.2 L757.0 679.0 L759.0 679.7 L761.0 680.5 L763.0 681.3 L765.0 682.2 L767.0 683.1 L769.0 684.0 L771.0 684.8 L773.0 685.6 L775.0 686.4 L777.0 687.1 L779.0 687.7 L781.0 688.3 L783.0 688.9 L785.0 689.3 L787.0 689.8 L789.0 690.1 L791.0 690.4 L793.0 690.6 L795.0 690.8 L797.0 691.0 L799.0 691.2 L801.0 691.4 L803.0 691.6 L805.0 691.7 L807.0 691.9 L809.0 692.1 L811.0 692.3 L813.0 692.5 L815.0 692.7 L817.0 692.9 L819.0 693.1 L821.0 693.3 L823.0 693.4 L825.0 693.6 L827.0 693.8 L829.0 694.0 L831.0 694.2 L833.0 694.4 L835.0 694.6 L837.0 694.8 L839.0 694.9 L841.0 695.0 L843.0 695.1 L845.0 695.1 L847.0 695.1 L849.0 695.2 L851.0 695.2 L853.0 695.2 L855.0 695.2 L857.0 695.2 L859.0 695.2 L861.0 695.2 L863.0 695.2 L865.0 695.2 L867.0 695.1 L869.0 695.1 L871.0 695.0 L873.0 695.0 L875.0 694.9 L877.0 694.9 L879.0 694.8 L881.0 694.8 L883.0 694.7 L885.0 694.6 L887.0 694.5 L889.0 694.4 L891.0 694.3 L893.0 694.2 L895.0 694.1 L897.0 693.9 L899.0 693.8 L901.0 693.7 L903.0 693.5 L905.0 693.4 L907.0 693.2 L909.0 693.1 L911.0 693.0 L913.0 692.8 L915.0 692.7 L917.0 692.5 L919.0 692.3 L921.0 692.2 L923.0 692.0 L925.0 691.8 L927.0 691.6 L929.0 691.4 L931.0 691.2 L933.0 691.0 L935.0 690.8 L937.0 690.6 L939.0 690.4 L941.0 690.2 L943.0 690.0 L945.0 689.8 L947.0 689.7 L949.0 689.5 L951.0 689.4 L953.0 689.3 L955.0 689.2 L957.0 689.1 L959.0 689.0 L961.0 688.9 L963.0 688.9 L965.0 688.8 L967.0 688.8 L969.0 688.7 L971.0 688.7 L973.0 688.6 L975.0 688.6 L977.0 688.5 L979.0 688.5 L981.0 688.4 L983.0 688.4 L985.0 688.3 L987.0 688.3 L989.0 688.2 L991.0 688.2 L993.0 688.1 L995.0 688.0 L997.0 687.9 L999.0 687.8 L1001.0 687.7 L1003.0 687.6 L1005.0 687.5 L1007.0 687.4 L1009.0 687.3 L1011.0 687.2 L1013.0 687.1 L1015.0 687.0 L1017.0 687.0 L1019.0 686.9 L1021.0 686.9 L1023.0 686.9 L1025.0 686.9 L1027.0 686.9 L1029.0 686.9 L1031.0 686.9 L1033.0 686.9 L1035.0 686.9 L1037.0 686.9 L1039.0 686.9 L1041.0 686.9 L1043.0 686.9 L1045.0 687.0 L1047.0 687.0 L1049.0 687.0 L1051.0 687.0 L1053.0 687.0 L1055.0 687.0 L1057.0 687.0 L1059.0 687.1 L1061.0 687.1 L1063.0 687.2 L1065.0 687.2 L1067.0 687.3 L1069.0 687.4 L1071.0 687.4 L1073.0 687.5 L1075.0 687.6 L1077.0 687.7 L1079.0 687.7 L1081.0 687.8 L1083.0 687.9 L1085.0 688.0 L1087.0 688.0 L1089.0 688.1 L1091.0 688.2 L1093.0 688.3 L1095.0 688.3 L1097.0 688.4 L1099.0 688.5 L1101.0 688.6 L1103.0 688.7 L1105.0 688.7 L1107.0 688.8 L1109.0 688.9 L1111.0 689.0 L1113.0 689.0"/>
<path stroke="#800000" d="M199.0 670.8 L201.0 670.8 L203.0 670.8 L205.0 670.8 L207.0 670.7 L209.0 670.7 L211.0 670.7 L213.0 670.6 L215.0 670.6 L217.0 670.5 L219.0 670.4 L221.0 670.3 L223.0 670.2 L225.0 669.9 L227.0 669.6 L229.0 669.2 L231.0 668.8 L233.0 668.4 L235.0 667.9 L237.0 667.4 L239.0 666.9 L241.0 666.4 L243.0 665.8 L245.0 665.2 L247.0 664.7 L249.0 664.1 L251.0 663.5 L253.0 662.9 L255.0 662.4 L257.0 661.8 L259.0 661.3 L261.0 660.8 L263.0 660.4 L265.0 659.9 L267.0 659.5 L269.0 659.2 L271.0 658.8 L273.0 658.5 L275.0 658.3 L277.0 658.0 L279.0 657.9 L281.0 657.8 L283.0 657.7 L285.0 657.6 L287.0 657.5 L289.0 657.5 L291.0 657.4 L293.0 657.4 L295.0 657.3 L297.0 657.3 L299.0 657.3 L301.0 657.2 L303.0 657.2 L305.0 657.2 L307.0 657.1 L309.0 657.1 L311.0 656.9 L313.0 656.8 L315.0 656.5 L317.0 656.1 L319.0 655.5 L321.0 654.8 L323.0 654.0 L325.0 653.0 L327.0 651.8 L329.0 650.6 L331.0 649.3 L333.0 648.0 L335.0 646.7 L337.0 645.3 L339.0 643.8 L341.0 642.2 L343.0 640.5 L345.0 638.7 L347.0 636.8 L349.0 634.9 L351.0 633.0 L353.0 631.2 L355.0 629.3 L357.0 627.4 L359.0 625.6 L361.0 623.7 L363.0 621.8 L365.0 619.8 L367.0 617.9 L369.0 615.9 L371.0 613.8 L373.0 611.7 L375.0 609.6 L377.0 607.3 L379.0 605.0 L381.0 602.7 L383.0 600.2 L385.0 597.7 L387.0 595.1 L389.0 592.5 L391.0 589.8 L393.0 587.1 L395.0 584.3 L397.0 581.5 L399.0 578.8 L401.0 576.1 L403.0 573.4 L405.0 570.7 L407.0 568.0 L409.0 565.4 L411.0 562.7 L413.0 560.1 L415.0 557.5 L417.0 554.9 L419.0 552.4 L421.0 549.8 L423.0 547.3 L425.0 544.7 L427.0 542.2 L429.0 539.8 L431.0 537.2 L433.0 534.7 L435.0 532.1 L437.0 529.4 L439.0 526.6 L441.0 523.8 L443.0 521.0 L445.0 518.2 L447.0 515.4 L449.0 512.6 L451.0 509.8 L453.0 507.1 L455.0 504.5 L457.0 501.8 L459.0 499.2 L461.0 496.7 L463.0 494.3 L465.0 491.9 L467.0 489.7 L469.0 487.6 L471.0 485.6 L473.0 483.6 L475.0 481.7 L477.0 479.8 L479.0 478.1 L481.0 476.4 L483.0 474.8 L485.0 473.3 L487.0 471.9 L489.0 470.6 L491.0 469.4 L493.0 468.3 L495.0 467.2 L497.0 466.2 L499.0 465.3 L501.0 464.4 L503.0 463.5 L505.0 462.7 L507.0 462.0 L509.0 461.4 L511.0 460.8 L513.0 460.4 L515.0 460.0 L517.0 459.8 L519.0 459.6 L521.0 459.6 L523.0 459.6 L525.0 459.6 L527.0 459.7 L529.0 459.9 L531.0 460.2 L533.0 460.6 L535.0 461.2 L537.0 461.9 L539.0 462.7 L541.0 463.6 L543.0 464.6 L545.0 465.8 L547.0 467.0 L549.0 468.3 L551.0 469.8 L553.0 471.4 L555.0 473.2 L557.0 475.0 L559.0 477.1 L561.0 479.3 L563.0 481.6 L565.0 484.1 L567.0 486.6 L569.0 489.2 L571.0 491.9 L573.0 494.7 L575.0 497.6 L577.0 500.6 L579.0 503.7 L581.0 506.8 L583.0 510.1 L585.0 513.3 L587.0 516.5 L589.0 519.6 L591.0 522.7 L593.0 525.8 L595.0 528.8 L597.0 531.9 L599.0 535.0 L601.0 538.1 L603.0 541.2 L605.0 544.4 L607.0 547.4 L609.0 550.4 L611.0 553.3 L613.0 556.2 L615.0 559.0 L617.0 561.8 L619.0 564.6 L621.0 567.5 L623.0 570.4 L625.0 573.3 L627.0 576.3 L629.0 579.2 L631.0 582.2 L633.0 585.2 L635.0 588.1 L637.0 591.0 L639.0 593.8 L641.0 596.6 L643.0 599.2 L645.0 601.9 L647.0 604.4 L649.0 607.0 L651.0 609.6 L653.0 612.2 L655.0 614.8 L657.0 617.4 L659.0 620.0 L661.0 622.4 L663.0 624.8 L665.0 627.1 L667.0 629.4 L669.0 631.6 L671.0 633.8 L673.0 635.9 L675.0 638.0 L677.0 640.1 L679.0 642.1 L681.0 644.0 L683.0 645.9 L685.0 647.7 L687.0 649.4 L689.0 651.1 L691.0 652.7 L693.0 654.3 L695.0 655.7 L697.0 657.1 L699.0 658.5 L701.0 659.8 L703.0 660.9 L705.0 661.9 L707.0 662.8 L709.0 663.6 L711.0 664.2 L713.0 664.8 L715.0 665.3 L717.0 665.9 L719.0 666.4 L721.0 667.0 L723.0 667.7 L725.0 668.4 L727.0 669.2 L729.0 670.2 L731.0 671.4 L733.0 672.8 L735.0 674.5 L737.0 676.3 L739.0 678.2 L741.0 680.0 L743.0 681.6 L745.0 683.1 L747.0 684.3 L749.0 685.4 L751.0 686.3 L753.0 687.0 L755.0 687.5 L757.0 688.0 L759.0 688.5 L761.0 689.0 L763.0 689.4 L765.0 689.9 L767.0 690.3 L769.0 690.8 L771.0 691.2 L773.0 691.6 L775.0 692.0 L777.0 692.4 L779.0 692.8 L781.0 693.2 L783.0 693.5 L785.0 693.9 L787.0 694.2 L789.0 694.5 L791.0 694.8 L793.0 695.0 L795.0 695.3 L797.0 695.5 L799.0 695.7 L801.0 695.9 L803.0 696.1 L805.0 696.3 L807.0 696.5 L809.0 696.6 L811.0 696.8 L813.0 697.0 L815.0 697.1 L817.0 697.2 L819.0 697.4 L821.0 697.5 L823.0 697.6 L825.0 697.7 L827.0 697.8 L829.0 697.9 L831.0 697.9 L833.0 698.0 L835.0 698.1 L837.0 698.1 L839.0 698.2 L841.0 698.2 L843.0 698.3 L845.0 698.3 L847.0 698.4 L849.0 698.4 L851.0 698.5 L853.0 698.5 L855.0 698.6 L857.0 698.6 L859.0 698.6 L861.0 698.6 L863.0 698.6 L865.0 698.6 L867.0 698.6 L869.0 698.6 L871.0 698.6 L873.0 698.6 L875.0 698.5 L877.0 698.5 L879.0 698.5 L881.0 698.5 L883.0 698.4 L885.0 698.4 L887.0 698.3 L889.0 698.2 L891.0 698.1 L893.0 698.0 L895.0 697.9 L897.0 697.8 L899.0 697.7 L901.0 697.5 L903.0 697.4 L905.0 697.3 L907.0 697.1 L909.0 697.0 L911.0 696.8 L913.0 696.7 L915.0 696.6 L917.0 696.4 L919.0 696.3 L921.0 696.1 L923.0 695.9 L925.0 695.8 L927.0 695.6 L929.0 695.4 L931.0 695.2 L933.0 695.0 L935.0 694.8 L937.0 694.6 L939.0 694.4 L941.0 694.2 L943.0 694.1 L945.0 693.9 L947.0 693.7 L949.0 693.5 L951.0 693.4 L953.0 693.2 L955.0 693.1 L957.0 693.0 L959.0 692.8 L961.0 692.7 L963.0 692.6 L965.0 692.5 L967.0 692.4 L969.0 692.3 L971.0 692.1 L973.0 692.0 L975.0 691.9 L977.0 691.8 L979.0 691.7 L981.0 691.7 L983.0 691.6 L985.0 691.5 L987.0 691.4 L989.0 691.3 L991.0 691.3 L993.0 691.2 L995.0 691.1 L997.0 691.1 L999.0 691.0 L1001.0 690.9 L1003.0 690.9 L1005.0 690.8 L1007.0 690.7 L1009.0 690.7 L1011.0 690.6 L1013.0 690.6 L1015.0 690.6 L1017.0 690.5 L1019.0 690.5 L1021.0 690.5 L1023.0 690.5 L1025.0 690.5 L1027.0 690.5 L1029.0 690.5 L1031.0 690.5 L1033.0 690.5 L1035.0 690.5 L1037.0 690.5 L1039.0 690.5 L1041.0 690.5 L1043.0 690.5 L1045.0 690.6 L1047.0 690.6 L1049.0 690.6 L1051.0 690.6 L1053.0 690.6 L1055.0 690.6 L1057.0 690.6 L1059.0 690.7 L1061.0 690.7 L1063.0 690.8 L1065.0 690.8 L1067.0 690.9 L1069.0 691.0 L1071.0 691.0 L1073.0 691.1 L1075.0 691.2 L1077.0 691.3 L1079.0 691.3 L1081.0 691.4 L1083.0 691.5 L1085.0 691.6 L1087.0 691.6 L1089.0 691.7 L1091.0 691.8 L1093.0 691.9 L1095.0 691.9 L1097.0 692.0 L1099.0 692.1 L1101.0 692.2 L1103.0 692.3 L1105.0 692.3 L1107.0 692.4 L1109.0 692.5 L1111.0 692.6 L1113.0 692.6"/>
<path stroke="#808000" d="M199.0 666.3 L201.0 666.4 L203.0 666.6 L205.0 666.8 L207.0 666.9 L209.0 666.9 L211.0 666.9 L213.0 666.8 L215.0 666.7 L217.0 666.6 L219.0 666.5 L221.0 666.4 L223.0 666.2 L225.0 665.9 L227.0 665.5 L229.0 665.2 L231.0 664.7 L233.0 664.3 L235.0 663.8 L237.0 663.3 L239.0 662.8 L241.0 662.3 L243.0 661.7 L245.0 661.3 L247.0 660.8 L249.0 660.4 L251.0 660.0 L253.0 659.6 L255.0 659.2 L257.0 658.9 L259.0 658.7 L261.0 658.5 L263.0 658.4 L265.0 658.2 L267.0 658.1 L269.0 658.0 L271.0 657.9 L273.0 657.9 L275.0 658.0 L277.0 658.1 L279.0 658.4 L281.0 658.6 L283.0 658.9 L285.0 659.3 L287.0 659.8 L289.0 660.3 L291.0 660.9 L293.0 661.3 L295.0 661.7 L297.0 662.1 L299.0 662.4 L301.0 662.8 L303.0 663.1 L305.0 663.4 L307.0 663.6 L309.0 663.8 L311.0 663.9 L313.0 663.9 L315.0 663.8 L317.0 663.7 L319.0 663.4 L321.0 663.0 L323.0 662.4 L325.0 661.6 L327.0 660.8 L329.0 659.9 L331.0 659.0 L333.0 658.2 L335.0 657.5 L337.0 656.7 L339.0 655.9 L341.0 655.0 L343.0 654.1 L345.0 653.2 L347.0 652.2 L349.0 651.3 L351.0 650.3 L353.0 649.4 L355.0 648.5 L357.0 647.6 L359.0 646.7 L361.0 645.7 L363.0 644.8 L365.0 643.8 L367.0 642.8 L369.0 641.8 L371.0 640.7 L373.0 639.6 L375.0 638.5 L377.0 637.3 L379.0 636.1 L381.0 634.9 L383.0 633.6 L385.0 632.4 L387.0 631.1 L389.0 629.8 L391.0 628.6 L393.0 627.4 L395.0 626.2 L397.0 625.0 L399.0 623.8 L401.0 622.6 L403.0 621.4 L405.0 620.1 L407.0 618.9 L409.0 617.6 L411.0 616.4 L413.0 615.1 L415.0 613.8 L417.0 612.6 L419.0 611.3 L421.0 610.0 L423.0 608.7 L425.0 607.4 L427.0 606.0 L429.0 604.7 L431.0 603.4 L433.0 602.0 L435.0 600.6 L437.0 599.2 L439.0 597.8 L441.0 596.4 L443.0 595.0 L445.0 593.7 L447.0 592.4 L449.0 591.1 L451.0 589.9 L453.0 588.6 L455.0 587.4 L457.0 586.2 L459.0 585.1 L461.0 583.9 L463.0 582.7 L465.0 581.5 L467.0 580.2 L469.0 579.0 L471.0 577.9 L473.0 577.1 L475.0 576.7 L477.0 576.5 L479.0 576.6 L481.0 576.7 L483.0 576.6 L485.0 576.2 L487.0 575.5 L489.0 574.6 L491.0 573.9 L493.0 573.2 L495.0 572.7 L497.0 572.2 L499.0 571.8 L501.0 571.5 L503.0 571.2 L505.0 571.1 L507.0 571.0 L509.0 570.9 L511.0 570.8 L513.0 570.8 L515.0 570.8 L517.0 570.9 L519.0 570.9 L521.0 571.0 L523.0 571.2 L525.0 571.4 L527.0 571.7 L529.0 572.2 L531.0 572.7 L533.0 573.3 L535.0 573.9 L537.0 574.6 L539.0 575.2 L541.0 576.0 L543.0 576.7 L545.0 577.6 L547.0 578.5 L549.0 579.4 L551.0 580.5 L553.0 581.5 L555.0 582.5 L557.0 583.6 L559.0 584.6 L561.0 585.6 L563.0 586.8 L565.0 588.0 L567.0 589.3 L569.0 590.8 L571.0 592.3 L573.0 593.9 L575.0 595.5 L577.0 596.9 L579.0 598.3 L581.0 599.7 L583.0 601.1 L585.0 602.5 L587.0 604.0 L589.0 605.6 L591.0 607.1 L593.0 608.7 L595.0 610.4 L597.0 612.1 L599.0 613.8 L601.0 615.6 L603.0 617.5 L605.0 619.2 L607.0 620.9 L609.0 622.6 L611.0 624.1 L613.0 625.6 L615.0 627.1 L617.0 628.6 L619.0 630.2 L621.0 631.8 L623.0 633.3 L625.0 635.0 L627.0 636.6 L629.0 638.2 L631.0 639.8 L633.0 641.4 L635.0 643.0 L637.0 644.6 L639.0 646.1 L641.0 647.6 L643.0 649.1 L645.0 650.6 L647.0 652.1 L649.0 653.5 L651.0 654.9 L653.0 656.3 L655.0 657.7 L657.0 659.0 L659.0 660.3 L661.0 661.6 L663.0 662.9 L665.0 664.2 L667.0 665.5 L669.0 666.7 L671.0 667.8 L673.0 668.9 L675.0 669.9 L677.0 670.8 L679.0 671.7 L681.0 672.5 L683.0 673.4 L685.0 674.2 L687.0 675.0 L689.0 675.8 L691.0 676.6 L693.0 677.3 L695.0 678.0 L697.0 678.7 L699.0 679.3 L701.0 679.9 L703.0 680.3 L705.0 680.6 L707.0 680.7 L709.0 680.7 L711.0 680.7 L713.0 680.6 L715.0 680.5 L717.0 680.4 L719.0 680.3 L721.0 680.3 L723.0 680.4 L725.0 680.5 L727.0 680.7 L729.0 681.1 L731.0 681.7 L733.0 682.5 L735.0 683.5 L737.0 684.6 L739.0 685.7 L741.0 686.8 L743.0 687.9 L745.0 688.9 L747.0 689.8 L749.0 690.6 L751.0 691.3 L753.0 691.9 L755.0 692.5 L757.0 693.1 L759.0 693.7 L761.0 694.2 L763.0 694.6 L765.0 695.0 L767.0 695.3 L769.0 695.6 L771.0 695.9 L773.0 696.2 L775.0 696.4 L777.0 696.6 L779.0 696.8 L781.0 697.0 L783.0 697.2 L785.0 697.4 L787.0 697.5 L789.0 697.6 L791.0 697.7 L793.0 697.8 L795.0 697.9 L797.0 697.9 L799.0 698.0 L801.0 698.1 L803.0 698.1 L805.0 698.2 L807.0 698.3 L809.0 698.3 L811.0 698.4 L813.0 698.5 L815.0 698.5 L817.0 698.6 L819.0 698.6 L821.0 698.7 L823.0 698.7 L825.0 698.8 L827.0 698.8 L829.0 698.8 L831.0 698.9 L833.0 698.9 L835.0 698.9 L837.0 698.9 L839.0 699.0 L841.0 699.0 L843.0 699.0 L845.0 699.0 L847.0 699.1 L849.0 699.1 L851.0 699.1 L853.0 699.1 L855.0 699.2 L857.0 699.2 L859.0 699.2 L861.0 699.2 L863.0 699.2 L865.0 699.2 L867.0 699.2 L869.0 699.1 L871.0 699.1 L873.0 699.1 L875.0 699.1 L877.0 699.0 L879.0 699.0 L881.0 699.0 L883.0 698.9 L885.0 698.9 L887.0 698.8 L889.0 698.7 L891.0 698.6 L893.0 698.5 L895.0 698.3 L897.0 698.2 L899.0 698.1 L901.0 697.9 L903.0 697.8 L905.0 697.6 L907.0 697.5 L909.0 697.3 L911.0 697.2 L913.0 697.0 L915.0 696.9 L917.0 696.7 L919.0 696.5 L921.0 696.4 L923.0 696.2 L925.0 696.0 L927.0 695.8 L929.0 695.6 L931.0 695.4 L933.0 695.2 L935.0 695.0 L937.0 694.8 L939.0 694.6 L941.0 694.4 L943.0 694.2 L945.0 694.0 L947.0 693.8 L949.0 693.7 L951.0 693.5 L953.0 693.3 L955.0 693.2 L957.0 693.1 L959.0 692.9 L961.0 692.8 L963.0 692.7 L965.0 692.5 L967.0 692.4 L969.0 692.3 L971.0 692.2 L973.0 692.1 L975.0 692.0 L977.0 691.9 L979.0 691.8 L981.0 691.7 L983.0 691.6 L985.0 691.5 L987.0 691.4 L989.0 691.3 L991.0 691.3 L993.0 691.2 L995.0 691.1 L997.0 691.1 L999.0 691.0 L1001.0 690.9 L1003.0 690.8 L1005.0 690.8 L1007.0 690.7 L1009.0 690.7 L1011.0 690.6 L1013.0 690.6 L1015.0 690.6 L1017.0 690.5 L1019.0 690.5 L1021.0 690.5 L1023.0 690.5 L1025.0 690.5 L1027.0 690.5 L1029.0 690.5 L1031.0 690.5 L1033.0 690.5 L1035.0 690.5 L1037.0 690.5 L1039.0 690.5 L1041.0 690.5 L1043.0 690.5 L1045.0 690.6 L1047.0 690.6 L1049.0 690.6 L1051.0 690.6 L1053.0 690.6 L1055.0 690.6 L1057.0 690.6 L1059.0 690.7 L1061.0 690.7 L1063.0 690.8 L1065.0 690.8 L1067.0 690.9 L1069.0 691.0 L1071.0 691.0 L1073.0 691.1 L1075.0 691.2 L1077.0 691.3 L1079.0 691.3 L1081.0 691.4 L1083.0 691.5 L1085.0 691.6 L1087.0 691.6 L1089.0 691.7 L1091.0 691.8 L1093.0 691.8 L1095.0 691.9 L1097.0 692.0 L1099.0 692.1 L1101.0 692.1 L1103.0 692.2 L1105.0 692.3 L1107.0 692.4 L1109.0 692.4 L1111.0 692.5 L1113.0 692.6"/>
</g>
<g>
<text transform="translate(156.33,761.0) scale(0.9667,1)" font-size="46.5">0</text>
<text transform="translate(81.57,618.0) scale(0.9270,1)" font-size="46.5">2,000</text>
<text transform="translate(82.50,475.0) scale(0.9180,1)" font-size="46.5">4,000</text>
<text transform="translate(81.57,331.0) scale(0.9270,1)" font-size="46.5">6,000</text>
<text transform="translate(81.57,188.0) scale(0.9270,1)" font-size="46.5">8,000</text>
<text transform="translate(59.92,45.0) scale(0.9270,1)" font-size="46.5">10,000</text>
<text transform="translate(168.70,807.0) scale(0.9124,1)" font-size="46.5">450</text>
<text transform="translate(397.07,807.0) scale(0.9259,1)" font-size="46.5">500</text>
<text transform="translate(624.77,807.0) scale(0.9289,1)" font-size="46.5">550</text>
<text transform="translate(853.57,807.0) scale(0.9259,1)" font-size="46.5">600</text>
<text transform="translate(1082.08,807.0) scale(0.9215,1)" font-size="46.5">650</text>
<text transform="translate(502.00,864.2) scale(0.9023,1)" font-size="46.5">Wavelength/nm</text>
<text transform="translate(696.09,138.6) scale(0.9137,1)" font-size="46.5">0.00</text>
<text transform="translate(781.00,138.6) scale(0.8634,1)" font-size="46.5">μmol</text>
<text transform="translate(880.90,138.6) scale(0.8700,1)" font-size="46.5">L</text>
<text transform="translate(937.10,117.8) scale(0.8500,1)" font-size="31">1</text>
<text transform="translate(689.50,465.4) scale(0.9025,1)" font-size="46.5">400.0</text>
<text transform="translate(795.00,465.4) scale(0.8634,1)" font-size="46.5">μmol</text>
<text transform="translate(894.90,465.4) scale(0.8700,1)" font-size="46.5">L</text>
<text transform="translate(951.10,444.6) scale(0.8500,1)" font-size="31">1</text>
<text transform="translate(49.5,494.5) rotate(-90) scale(0.9934,1)" font-size="46.5">FL intensity/a.u.</text>
</g>
<g fill="#000">
<circle cx="874.6" cy="128" r="2.7"/><circle cx="888.6" cy="455" r="2.7"/>
<rect x="911" y="104.9" width="22" height="3.1"/><rect x="925" y="431.8" width="22" height="3.1"/>
<rect x="773" y="169" width="6" height="210" shape-rendering="crispEdges"/><polygon shape-rendering="crispEdges" points="766,376 786,376 777,418 775,418"/>
</g>
</svg></body></html>
